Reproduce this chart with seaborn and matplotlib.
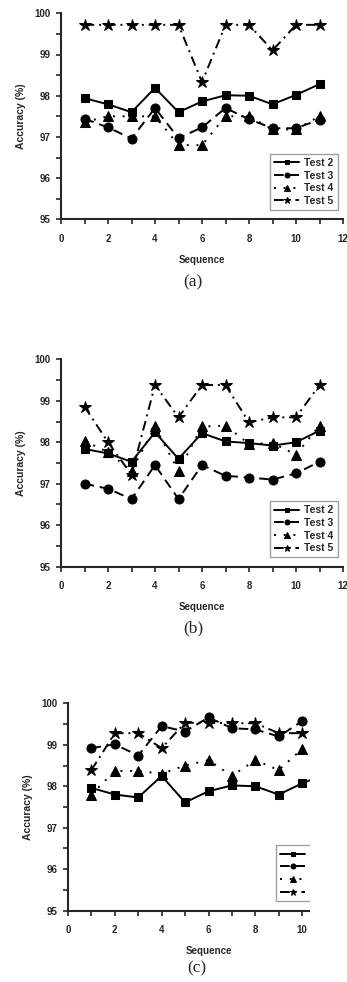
import numpy as np
import pandas as pd
import matplotlib
matplotlib.use("Agg")
import matplotlib.pyplot as plt
from matplotlib.patches import Rectangle
import seaborn as sns

# Data
sequence = list(range(1, 12))
series_names = ["Test 2", "Test 3", "Test 4", "Test 5"]

# (a)
a_test2 = [97.94, 97.79, 97.60, 98.19, 97.60, 97.86, 98.01, 98.00, 97.79, 98.02, 98.28]
a_test3 = [97.44, 97.23, 96.96, 97.70, 96.97, 97.23, 97.70, 97.43, 97.21, 97.21, 97.42]
a_test4 = [97.36, 97.50, 97.50, 97.50, 96.80, 96.80, 97.50, 97.50, 97.18, 97.18, 97.50]
a_test5 = [99.72, 99.72, 99.72, 99.72, 99.72, 98.33, 99.72, 99.72, 99.10, 99.72, 99.72]

# (b)
b_test2 = [97.84, 97.73, 97.53, 98.24, 97.60, 98.22, 98.02, 97.98, 97.92, 98.00, 98.28]
b_test3 = [97.00, 96.88, 96.63, 97.45, 96.63, 97.45, 97.19, 97.15, 97.10, 97.25, 97.53]
b_test4 = [98.03, 97.76, 97.31, 98.38, 97.30, 98.38, 98.40, 97.96, 97.98, 97.70, 98.40]
b_test5 = [98.86, 98.00, 97.22, 99.38, 98.60, 99.38, 99.38, 98.48, 98.60, 98.60, 99.38]

# (c)
c_test2 = [97.96, 97.80, 97.73, 98.25, 97.61, 97.88, 98.02, 98.00, 97.80, 98.07, 98.30]
c_test3 = [98.92, 99.01, 98.74, 99.45, 99.32, 99.66, 99.40, 99.37, 99.20, 99.57, 99.62]
c_test4 = [97.80, 98.37, 98.37, 98.30, 98.50, 98.63, 98.25, 98.63, 98.39, 98.90, 99.05]
c_test5 = [98.39, 99.28, 99.28, 98.92, 99.53, 99.53, 99.52, 99.52, 99.28, 99.28, 99.30]

panels = [
    ("(a)", [a_test2, a_test3, a_test4, a_test5]),
    ("(b)", [b_test2, b_test3, b_test4, b_test5]),
    ("(c)", [c_test2, c_test3, c_test4, c_test5]),
]

sns.set_theme(style="ticks")
plt.rcParams["font.family"] = ["Liberation Sans", "DejaVu Sans"]

styles = {
    "Test 2": dict(marker="s", markersize=6, linestyle="-"),
    "Test 3": dict(marker="o", markersize=6.5, linestyle=(0, (5, 3))),
    "Test 4": dict(marker="^", markersize=7, linestyle=(0, (1, 4))),
    "Test 5": dict(marker="*", markersize=9, linestyle=(0, (5, 2.5, 1, 2.5))),
}

fig = plt.figure(figsize=(3.47, 9.82), dpi=100)
H = 982.0
W = 347.0
# axes boxes in pixels: left, right(x=12), top(y=100), bottom(y=95)
boxes = [(61, 343, 13.3, 219.3), (61, 343, 359.3, 566.7), (68, 349, 703.3, 910.7)]
captions_y = [282, 628, 968]
captions_x = [193, 193, 197]

for i, ((cap, vals), (l, r, t, b), cy, cx) in enumerate(zip(panels, boxes, captions_y, captions_x)):
    ax = fig.add_axes([l / W, (H - b) / H, (r - l) / W, (b - t) / H])
    df = pd.DataFrame({"Sequence": sequence * 4,
                       "Accuracy": np.concatenate(vals),
                       "Series": np.repeat(series_names, len(sequence))})
    for name in series_names:
        sub = df[df["Series"] == name]
        sns.lineplot(data=sub, x="Sequence", y="Accuracy", ax=ax, color="black",
                     linewidth=1.4, markeredgecolor="black", label=name,
                     **styles[name])
    ax.set_xlim(0, 12)
    ax.set_ylim(95, 100)
    ax.set_xticks(range(0, 13, 2))
    ax.set_xticks(range(1, 12, 2), minor=True)
    ax.set_yticks(range(95, 101))
    ax.set_yticks(np.arange(95.5, 100, 1), minor=True)
    if i == 2:
        # the right part of panel (c) is cropped in the source, hide the hidden "12"
        ax.set_xticklabels(["0", "2", "4", "6", "8", "10", ""])
    sns.despine(ax=ax)
    for sp in ["left", "bottom"]:
        ax.spines[sp].set_linewidth(1.5)
    ax.tick_params(axis="both", which="major", length=3.5, width=1.2, labelsize=7)
    ax.tick_params(axis="both", which="minor", length=3.5, width=1.2)
    ax.tick_params(axis="x", pad=7)
    ax.tick_params(axis="y", pad=4)
    for lab in ax.get_xticklabels() + ax.get_yticklabels():
        lab.set_fontweight("bold")
    ax.set_xlabel("Sequence", fontsize=7, fontweight="bold", labelpad=8)
    ax.set_ylabel("Accuracy (%)", fontsize=7.5, fontweight="bold", labelpad=6)
    ax.set_facecolor("none")
    leg = ax.legend(loc="lower right", bbox_to_anchor=(1.0, 0.02), frameon=True,
                    fancybox=False, fontsize=7.5, handlelength=2.4,
                    handletextpad=0.5, borderpad=0.4, labelspacing=0.25,
                    markerscale=0.55)
    leg.get_frame().set_edgecolor("#888888")
    leg.get_frame().set_linewidth(1.0)
    for txt in leg.get_texts():
        txt.set_fontweight("bold")
    fig.text(cx / W, 1 - cy / H, cap, ha="center", va="center",
             fontsize=12.5, family=["Liberation Serif", "DejaVu Serif"])

# panel (c) is cut off on the right in the source image
fig.add_artist(Rectangle((310 / W, 0.02), 1 - 310 / W, 0.30,
                         transform=fig.transFigure, facecolor="white",
                         edgecolor="none", zorder=20))

fig.savefig("out.png", dpi=100)
